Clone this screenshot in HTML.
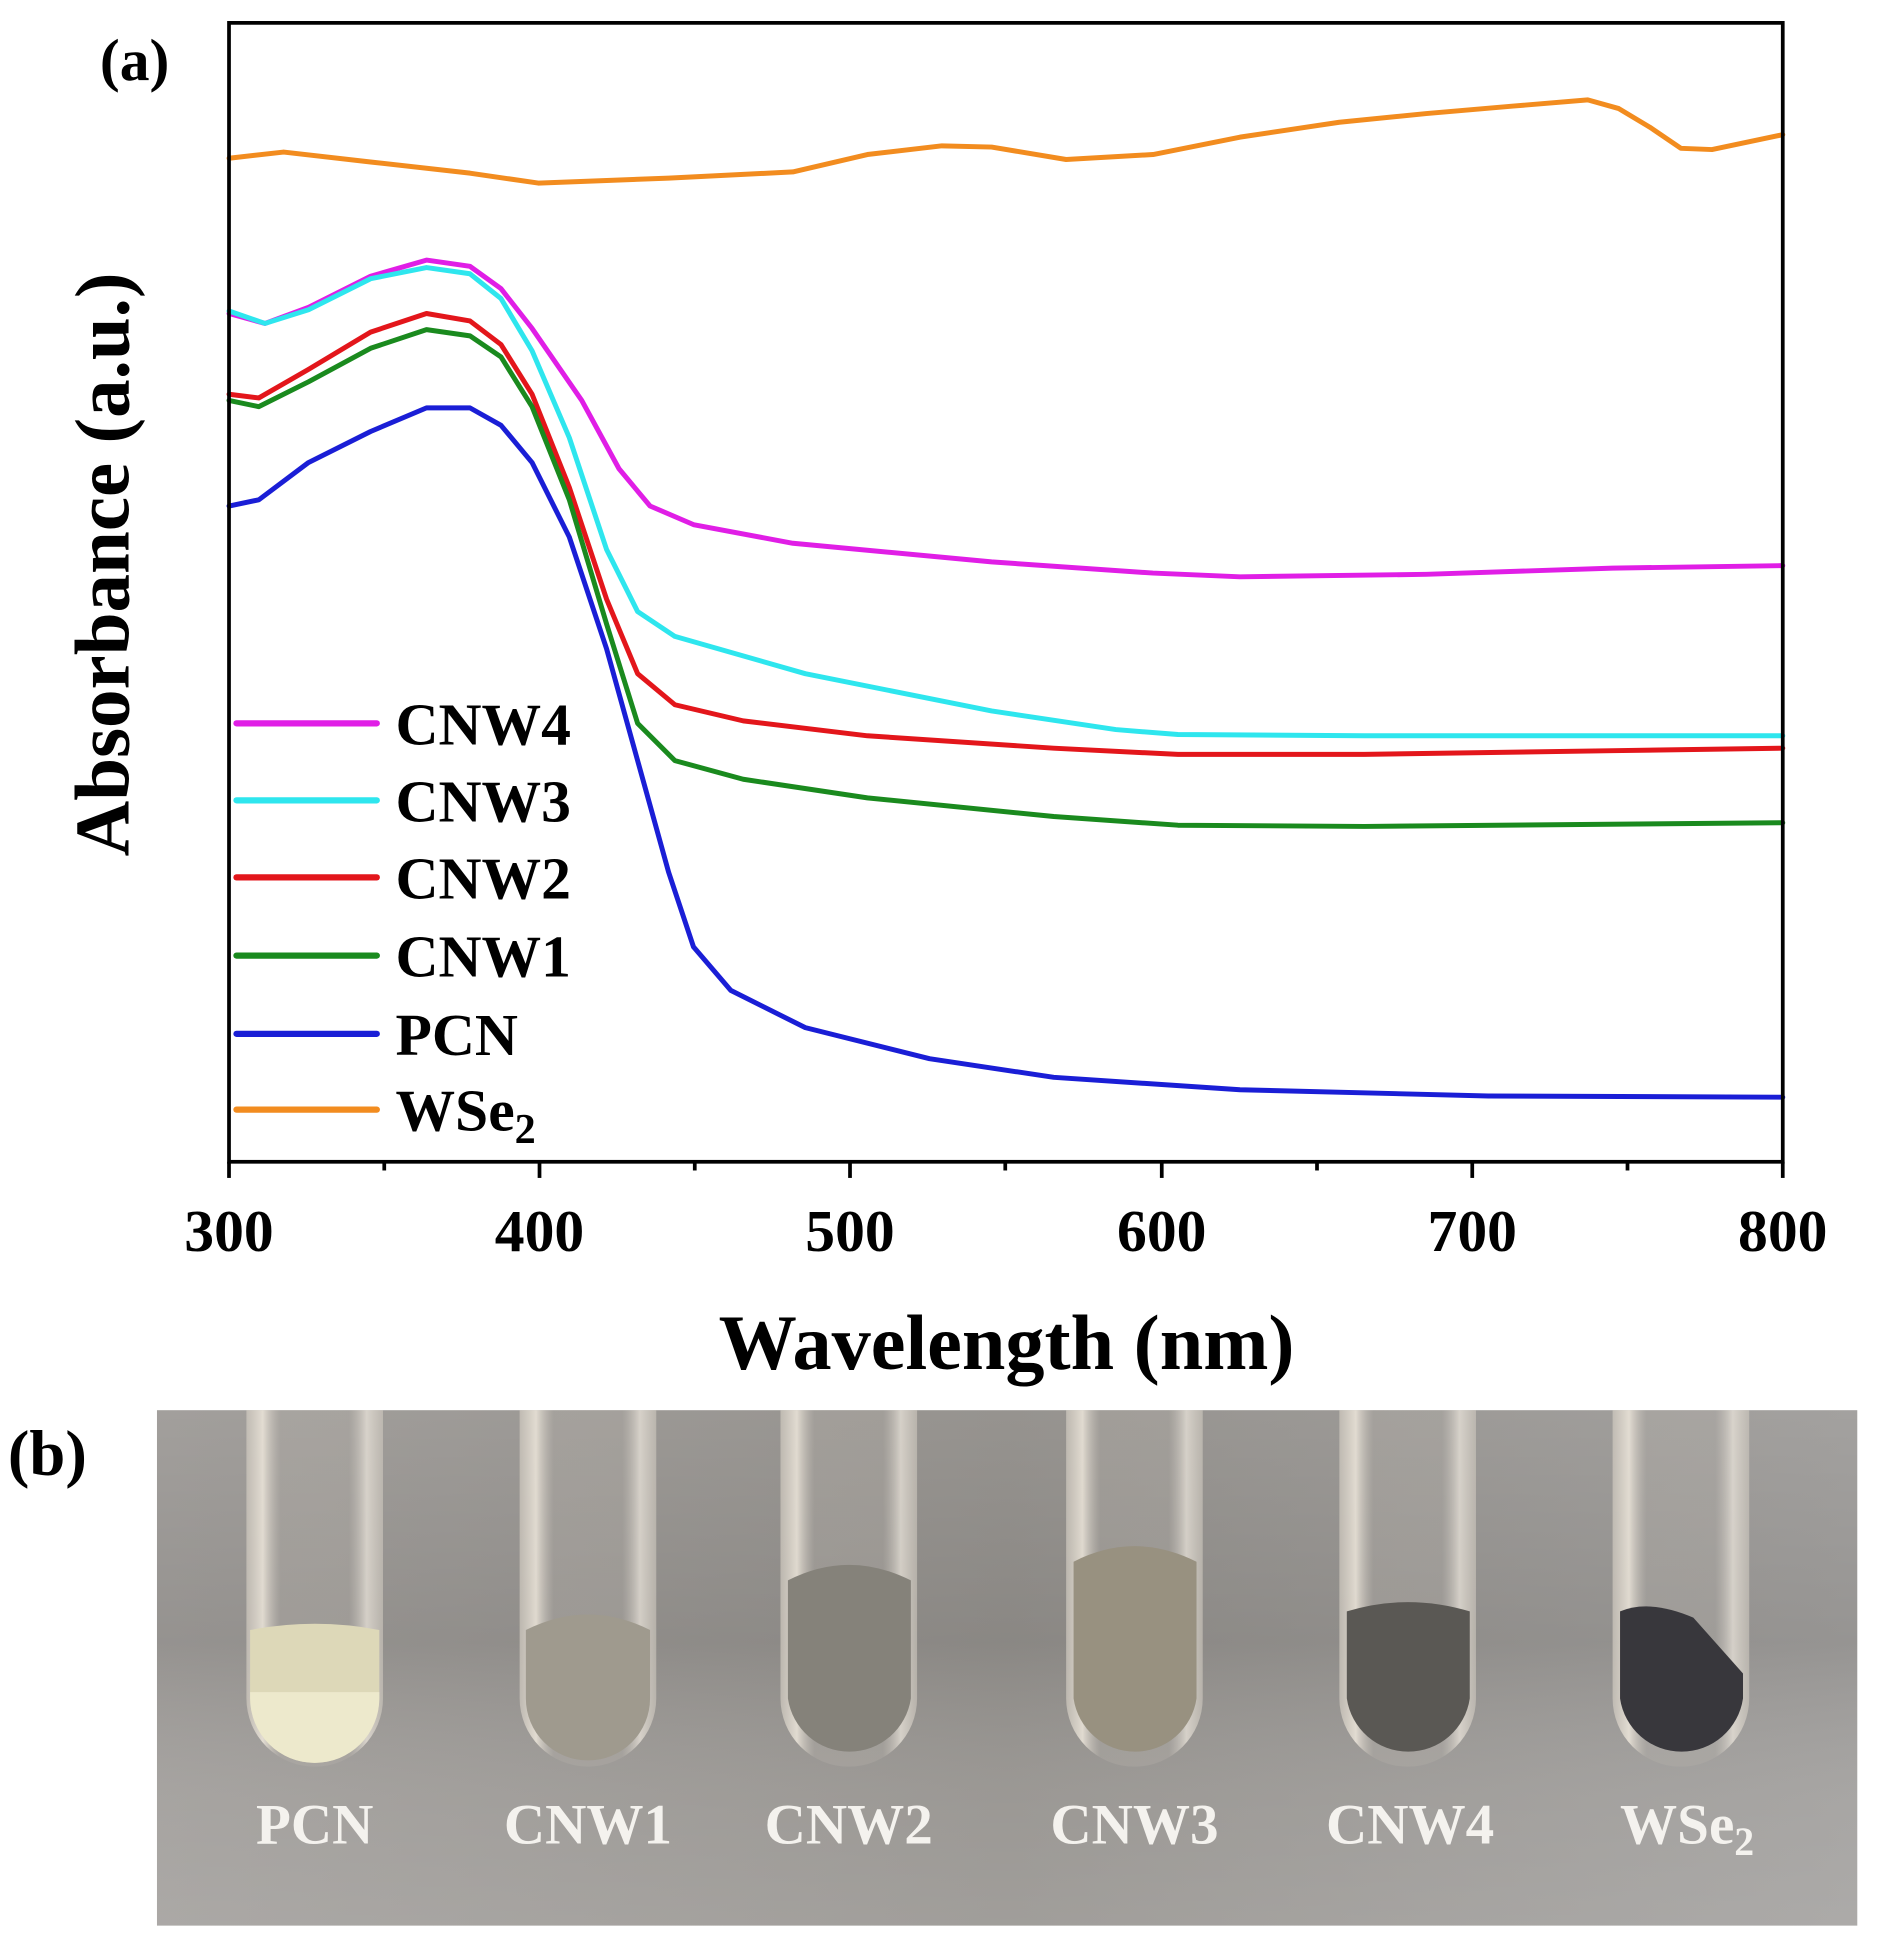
<!DOCTYPE html>
<html><head><style>html,body{margin:0;padding:0;background:#fff}svg{display:block}</style></head>
<body>
<svg width="1877" height="1947" viewBox="0 0 1877 1947" xmlns="http://www.w3.org/2000/svg" font-family="Liberation Serif, serif" font-weight="bold">
<defs>
<linearGradient id="bg" x1="0" y1="0" x2="1" y2="0">
<stop offset="0" stop-color="#a29f9c"/><stop offset="0.5" stop-color="#96938f"/><stop offset="1" stop-color="#a3a19f"/></linearGradient>
<linearGradient id="bgv" x1="0" y1="0" x2="0" y2="1">
<stop offset="0" stop-color="#000" stop-opacity="0"/><stop offset="0.45" stop-color="#000" stop-opacity="0.08"/><stop offset="0.75" stop-color="#fff" stop-opacity="0.05"/><stop offset="1" stop-color="#fff" stop-opacity="0.1"/></linearGradient>
<linearGradient id="glass" x1="0" y1="0" x2="1" y2="0">
<stop offset="0" stop-color="#cfc9bf" stop-opacity="0.7"/><stop offset="0.12" stop-color="#f3ece0" stop-opacity="0.8"/><stop offset="0.25" stop-color="#b8b3ac" stop-opacity="0.3"/><stop offset="0.75" stop-color="#b8b3ac" stop-opacity="0.3"/><stop offset="0.88" stop-color="#f0eae0" stop-opacity="0.7"/><stop offset="1" stop-color="#cfc9bf" stop-opacity="0.6"/></linearGradient>
</defs>
<g transform="matrix(1.242,0,0,1.242,-2,3)">
<g fill="none" stroke-width="4" stroke-linejoin="round" stroke-linecap="round">
<polyline stroke="#f28c1f" points="186,125 230,120 300,128 380,137 435,145 540,141 640,136 700,122 760,115 800,116 860,126 930,122 1000,108 1080,96 1150,89 1220,83 1280,78 1305,85 1330,100 1355,117 1380,118 1437,106"/>
<polyline stroke="#e01ee6" points="186,250 215,258 250,245 300,220 345,207 380,212 405,230 430,262 470,320 500,375 525,405 560,420 640,435 800,450 930,459 1000,462 1150,460 1300,455 1437,453"/>
<polyline stroke="#2ee6ee" points="186,248 215,258 250,247 300,222 345,213 380,218 405,238 430,280 460,350 490,440 515,490 545,510 650,540 800,570 900,585 950,589 1100,590 1437,590"/>
<polyline stroke="#e3161b" points="186,315 210,318 250,295 300,265 345,250 380,256 405,275 430,315 460,390 490,480 515,540 545,565 600,578 700,590 850,600 950,605 1100,605 1300,602 1437,600"/>
<polyline stroke="#1a8a1e" points="186,320 210,325 250,305 300,278 345,263 380,268 405,285 430,325 460,400 490,500 515,580 545,610 600,625 700,640 850,655 950,662 1100,663 1437,660"/>
<polyline stroke="#1a1ed6" points="186,405 210,400 250,370 300,345 345,326 380,326 405,340 430,370 460,430 490,520 515,610 540,700 560,760 590,795 650,825 750,850 850,865 1000,875 1200,880 1437,881"/>
<g stroke-width="5">
<line x1="192" y1="580" x2="305" y2="580" stroke="#e01ee6"/>
<line x1="192" y1="642" x2="305" y2="642" stroke="#2ee6ee"/>
<line x1="192" y1="704" x2="305" y2="704" stroke="#e3161b"/>
<line x1="192" y1="767" x2="305" y2="767" stroke="#1a8a1e"/>
<line x1="192" y1="830" x2="305" y2="830" stroke="#1a1ed6"/>
<line x1="192" y1="891" x2="305" y2="891" stroke="#f28c1f"/>
</g>
</g>
<rect x="186" y="16" width="1251" height="917" fill="none" stroke="#000" stroke-width="3"/>
<g stroke="#000" stroke-width="3">
<line x1="186" y1="933" x2="186" y2="946"/><line x1="436" y1="933" x2="436" y2="946"/><line x1="686" y1="933" x2="686" y2="946"/><line x1="937" y1="933" x2="937" y2="946"/><line x1="1187" y1="933" x2="1187" y2="946"/><line x1="1437" y1="933" x2="1437" y2="946"/>
<line x1="311" y1="933" x2="311" y2="940"/><line x1="561" y1="933" x2="561" y2="940"/><line x1="811" y1="933" x2="811" y2="940"/><line x1="1062" y1="933" x2="1062" y2="940"/><line x1="1312" y1="933" x2="1312" y2="940"/>
</g>
<g font-size="48" text-anchor="middle">
<text x="186" y="1005">300</text><text x="436" y="1005">400</text><text x="686" y="1005">500</text><text x="937" y="1005">600</text><text x="1187" y="1005">700</text><text x="1437" y="1005">800</text>
</g>
<text x="812" y="1100" font-size="63" text-anchor="middle">Wavelength (nm)</text>
<text transform="translate(105,452) rotate(-90)" font-size="62" text-anchor="middle">Absorbance (a.u.)</text>
<text x="82" y="62" font-size="48">(a)</text>
<g font-size="48">
<text x="320" y="597">CNW4</text><text x="320" y="659">CNW3</text><text x="320" y="721">CNW2</text><text x="320" y="784">CNW1</text><text x="320" y="847">PCN</text><text x="320" y="908">WSe<tspan font-size="34" dy="10">2</tspan></text>
</g>
<text x="8" y="1185" font-size="52">(b)</text>
<rect x="128" y="1133" width="1369" height="415" fill="url(#bg)"/>
<rect x="128" y="1133" width="1369" height="415" fill="url(#bgv)"/>
<g>
<path d="M200,1133 V1365 a55,55 0 0 0 110,0 V1133 Z" fill="url(#glass)"/>
<path d="M203,1310 Q255,1300 307,1310 V1365 a52,52 0 0 1 -104,0 Z" fill="#ddd8b8"/>
<path d="M203,1360 H307 V1365 a52,52 0 0 1 -104,0 Z" fill="#ede9cc"/>
<path d="M420,1133 V1365 a55,55 0 0 0 110,0 V1133 Z" fill="url(#glass)"/>
<path d="M425,1310 Q475,1285 525,1310 V1365 a50,50 0 0 1 -100,0 Z" fill="#9f9a8e"/>
<path d="M630,1133 V1365 a55,55 0 0 0 110,0 V1133 Z" fill="url(#glass)"/>
<path d="M636,1270 Q685,1245 735,1270 V1365 a50,50 0 0 1 -99,0 Z" fill="#85827a"/>
<path d="M860,1133 V1365 a55,55 0 0 0 110,0 V1133 Z" fill="url(#glass)"/>
<path d="M866,1255 Q915,1230 965,1255 V1365 a50,50 0 0 1 -99,0 Z" fill="#989180"/>
<path d="M1080,1133 V1365 a55,55 0 0 0 110,0 V1133 Z" fill="url(#glass)"/>
<path d="M1086,1295 Q1135,1280 1185,1295 V1365 a50,50 0 0 1 -99,0 Z" fill="#5a5854"/>
<path d="M1300,1133 V1365 a55,55 0 0 0 110,0 V1133 Z" fill="url(#glass)"/>
<path d="M1306,1295 Q1330,1285 1365,1300 L1405,1345 V1365 a50,50 0 0 1 -99,0 Z" fill="#38373c"/>
</g>
<g font-size="46" fill="#f4f2ee" text-anchor="middle">
<text x="255" y="1482">PCN</text><text x="475" y="1482">CNW1</text><text x="685" y="1482">CNW2</text><text x="915" y="1482">CNW3</text><text x="1137" y="1482">CNW4</text><text x="1360" y="1482">WSe<tspan font-size="32" dy="9">2</tspan></text>
</g>
</g>
</svg>
</body></html>
